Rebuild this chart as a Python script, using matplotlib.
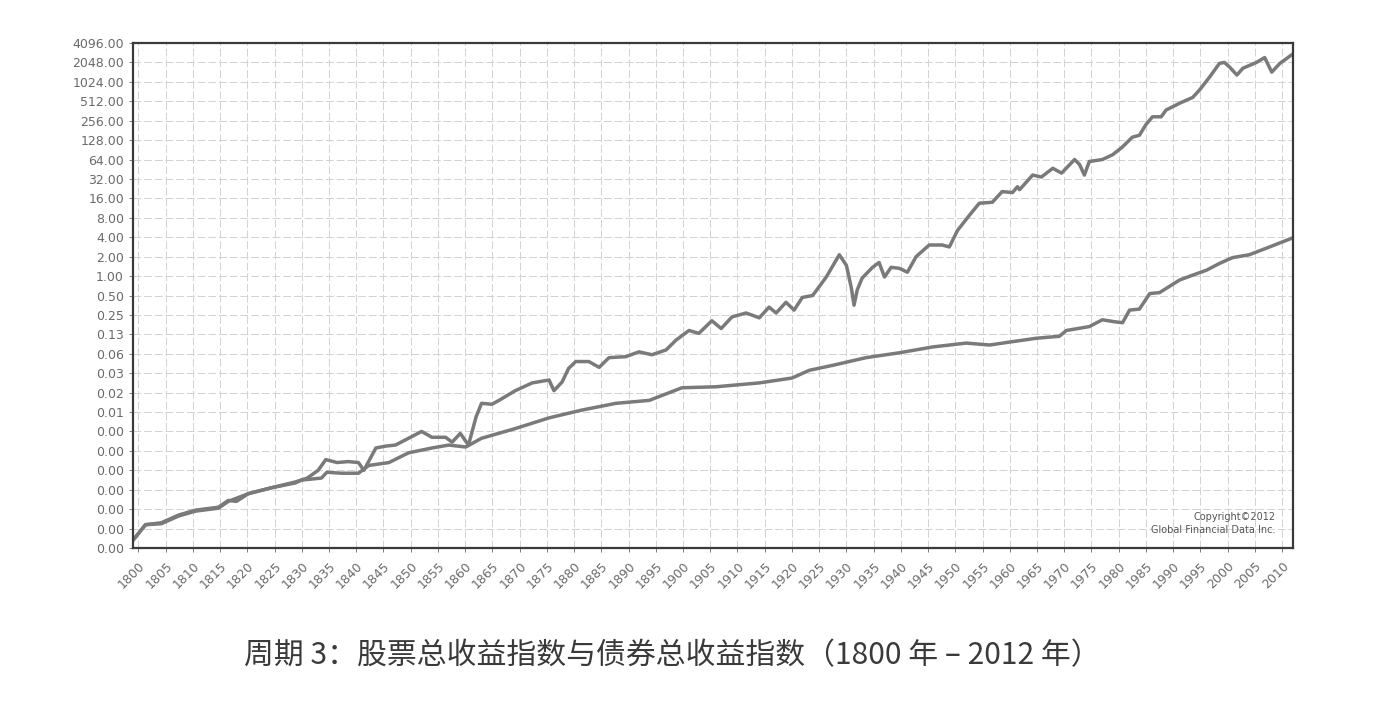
import matplotlib
matplotlib.use("Agg")
import matplotlib.pyplot as plt
import numpy as np

# stock total return index (log2 of index level)
stock_years = [1799.0, 1801.3, 1804.2, 1807.4, 1810.5, 1814.7, 1816.5, 1818.0, 1820.2, 1824.4,
               1828.8, 1831.0, 1833.0, 1834.4, 1836.5, 1838.5, 1840.4, 1841.4, 1843.6, 1845.5,
               1847.2, 1849.6, 1852.0, 1853.9, 1856.4, 1857.6, 1859.1, 1860.6, 1862.0, 1863.0,
               1864.9, 1866.2, 1869.2, 1872.3, 1875.4, 1876.3, 1877.8, 1879.0, 1880.3, 1882.7,
               1884.6, 1886.4, 1889.5, 1891.9, 1894.3, 1896.9, 1898.7, 1901.1, 1902.9, 1905.3,
               1907.0, 1909.0, 1911.6, 1914.0, 1915.8, 1917.1, 1918.9, 1920.4, 1921.9, 1923.8,
               1926.3, 1928.7, 1930.0, 1930.9, 1931.4, 1932.0, 1932.9, 1934.8, 1936.0, 1937.0,
               1938.2, 1939.7, 1941.2, 1942.8, 1945.2, 1947.6, 1948.9, 1950.4, 1952.5, 1954.4,
               1956.8, 1958.6, 1960.5, 1961.4, 1961.8, 1964.2, 1965.8, 1967.9, 1969.5, 1971.9,
               1972.8, 1973.7, 1974.6, 1977.0, 1978.9, 1980.7, 1982.5, 1983.8, 1985.0, 1986.2,
               1987.8, 1988.7, 1991.2, 1993.6, 1994.9, 1996.7, 1998.5, 1999.4, 2000.4, 2001.7,
               2002.8, 2005.3, 2006.8, 2008.1, 2009.6, 2011.8]
stock_log2 = [-13.6, -12.8, -12.7, -12.3, -12.05, -11.9, -11.55, -11.6, -11.2, -10.9,
              -10.6, -10.4, -10.0, -9.45, -9.6, -9.55, -9.6, -10.0, -8.85, -8.75,
              -8.7, -8.35, -8.0, -8.3, -8.3, -8.55, -8.1, -8.7, -7.25, -6.55,
              -6.6, -6.4, -5.9, -5.5, -5.35, -5.9, -5.45, -4.75, -4.4, -4.4,
              -4.7, -4.2, -4.15, -3.9, -4.05, -3.8, -3.3, -2.8, -2.95, -2.3,
              -2.7, -2.1, -1.9, -2.15, -1.6, -1.9, -1.35, -1.75, -1.1, -1.0,
              -0.05, 1.1, 0.55, -0.6, -1.5, -0.7, -0.1, 0.45, 0.7, -0.05,
              0.45, 0.4, 0.2, 1.0, 1.6, 1.6, 1.5, 2.35, 3.1, 3.75,
              3.8, 4.35, 4.3, 4.6, 4.45, 5.2, 5.1, 5.55, 5.3, 6.0,
              5.75, 5.2, 5.9, 6.0, 6.25, 6.65, 7.15, 7.25, 7.8, 8.2,
              8.2, 8.55, 8.9, 9.2, 9.6, 10.25, 10.95, 11.0, 10.75, 10.35,
              10.7, 11.0, 11.25, 10.5, 10.95, 11.4]

# bond total return index (log2 of index level)
bond_years = [1799.0, 1801.3, 1804.2, 1807.4, 1810.5, 1814.7, 1816.5, 1820.2, 1824.4, 1828.8,
              1830.0, 1833.6, 1834.6, 1837.3, 1840.4, 1842.3, 1846.0, 1849.6, 1853.9, 1857.0,
              1860.1, 1863.0, 1869.2, 1875.4, 1881.4, 1887.7, 1893.8, 1899.8, 1906.0, 1914.0,
              1920.0, 1923.2, 1927.4, 1933.6, 1939.7, 1945.8, 1952.0, 1956.3, 1959.9, 1964.9,
              1969.1, 1970.4, 1974.6, 1977.0, 1979.2, 1980.7, 1982.0, 1983.8, 1985.7, 1987.5,
              1991.2, 1993.6, 1996.1, 1998.5, 2000.9, 2004.0, 2007.7, 2011.8]
bond_log2 = [-13.6, -12.8, -12.75, -12.35, -12.1, -11.95, -11.6, -11.2, -10.9, -10.65,
             -10.5, -10.4, -10.1, -10.15, -10.15, -9.75, -9.6, -9.1, -8.85, -8.7,
             -8.8, -8.35, -7.85, -7.3, -6.9, -6.55, -6.4, -5.75, -5.7, -5.5,
             -5.25, -4.85, -4.6, -4.2, -3.95, -3.65, -3.45, -3.55, -3.4, -3.2,
             -3.1, -2.8, -2.6, -2.25, -2.35, -2.4, -1.75, -1.7, -0.9, -0.85,
             -0.2, 0.05, 0.3, 0.65, 0.95, 1.1, 1.5, 1.95]

ytick_powers = list(range(-14, 13))
ytick_labels = ["0.00"] * 7 + ["0.01", "0.02", "0.03", "0.06", "0.13", "0.25", "0.50",
                               "1.00", "2.00", "4.00", "8.00", "16.00", "32.00", "64.00",
                               "128.00", "256.00", "512.00", "1024.00", "2048.00", "4096.00"]
xtick_years = list(range(1800, 2011, 5))

title = "周期 3：股票总收益指数与债券总收益指数（1800 年 – 2012 年）"

line_col = "#7a7a7a"
text_col = "#6a6a6a"

fig = plt.figure(figsize=(13.78, 7.13), dpi=100)
ax = fig.add_axes([0.0965, 0.2314, 0.8418, 0.7083])

ax.plot(bond_years, 2.0 ** np.array(bond_log2), color=line_col, lw=2.5)
ax.plot(stock_years, 2.0 ** np.array(stock_log2), color=line_col, lw=2.5)

ax.set_yscale("log", base=2)
ax.set_ylim(2.0 ** -14, 2.0 ** 12)
ax.set_xlim(1799, 2012)

ax.set_yticks([2.0 ** p for p in ytick_powers])
ax.set_yticklabels(ytick_labels)
ax.yaxis.set_minor_locator(matplotlib.ticker.NullLocator())
ax.set_xticks(xtick_years)
ax.set_xticklabels([str(y) for y in xtick_years], rotation=45, ha="right",
                   rotation_mode="anchor")

ax.tick_params(axis="both", labelsize=9, colors=text_col, length=3, width=0.6)
ax.tick_params(axis="x", pad=5)
ax.grid(True, color="#d2d2d2", lw=0.7, ls=(0, (8, 3)))

for s in ax.spines.values():
    s.set_color("#3a3a3a")
    s.set_linewidth(1.6)

ax.text(0.985, 0.061, "Copyright©2012", transform=ax.transAxes, ha="right",
        va="center", fontsize=7, color="#555555")
ax.text(0.985, 0.036, "Global Financial Data Inc.", transform=ax.transAxes, ha="right",
        va="center", fontsize=7, color="#555555")

fig.text(0.4877, 0.081, title, ha="center", va="center", fontsize=21.5,
         color="#3a3a3a", family=["Noto Sans CJK SC", "DejaVu Sans"])

fig.savefig("out.png", dpi=100, facecolor="white")
